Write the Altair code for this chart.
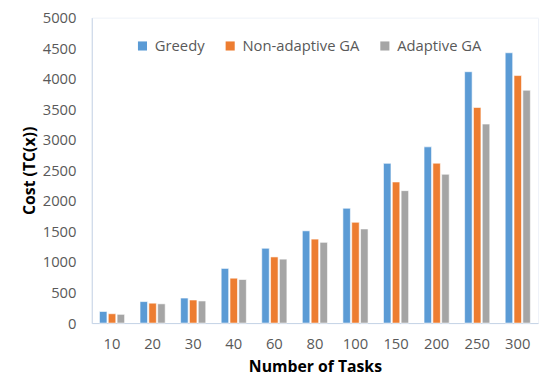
import altair as alt
import pandas as pd

tasks = ["10", "20", "30", "40", "60", "80", "100", "150", "200", "250", "300"]
series = ["Greedy", "Non-adaptive GA", "Adaptive GA"]
greedy = [190, 352, 410, 895, 1225, 1510, 1880, 2615, 2885, 4115, 4425]
non_adaptive = [153, 326, 378, 735, 1083, 1375, 1650, 2310, 2618, 3530, 4052]
adaptive = [143, 315, 362, 713, 1047, 1322, 1541, 2168, 2436, 3258, 3812]
colors = ["#5B9BD5", "#ED7D31", "#A5A5A5"]

rows = []
for name, vals in zip(series, [greedy, non_adaptive, adaptive]):
    for t, v in zip(tasks, vals):
        rows.append({"Tasks": t, "Series": name, "Cost": v})
df = pd.DataFrame(rows)

font = "Open Sans"

chart = alt.Chart(df).mark_bar(stroke="white", strokeWidth=0.6).encode(
    x=alt.X("Tasks:N", sort=tasks,
            scale=alt.Scale(paddingInner=0.38, paddingOuter=0.19),
            axis=alt.Axis(title="Number of Tasks", labelAngle=0, ticks=False,
                          labelPadding=14, titlePadding=7,
                          labelFontSize=15, labelColor="#595959",
                          titleFontSize=16, titleFontWeight="bold", titleColor="#000000",
                          domainColor="#c5d3e6", labelFont=font, titleFont=font)),
    xOffset=alt.XOffset("Series:N", sort=series,
                        scale=alt.Scale(paddingInner=0.15)),
    y=alt.Y("Cost:Q",
            scale=alt.Scale(domain=[0, 5000], nice=False),
            axis=alt.Axis(title="Cost (TC(x))", values=list(range(0, 5001, 500)),
                          format="d",
                          grid=False, ticks=False, labelPadding=16, titlePadding=5,
                          labelFontSize=15, labelColor="#595959",
                          titleFontSize=16, titleFontWeight="bold", titleColor="#000000",
                          domainColor="#c5d3e6", labelFont=font, titleFont=font)),
    color=alt.Color("Series:N", sort=series,
                    scale=alt.Scale(domain=series, range=colors),
                    legend=alt.Legend(title=None, orient="none", direction="horizontal",
                                      legendX=44, legendY=21,
                                      symbolType="square", symbolSize=85,
                                      symbolStrokeWidth=0,
                                      labelFontSize=15, labelColor="#595959",
                                      labelFont=font, columnPadding=18,
                                      labelOffset=5)),
).properties(
    width=453, height=310,
    autosize=alt.AutoSizeParams(type="none"),
    padding={"left": 85, "top": 7, "right": 4, "bottom": 57},
).configure_view(stroke="#eef2f8")

chart.save("out.html", embed_options={"renderer": "svg", "actions": False})
